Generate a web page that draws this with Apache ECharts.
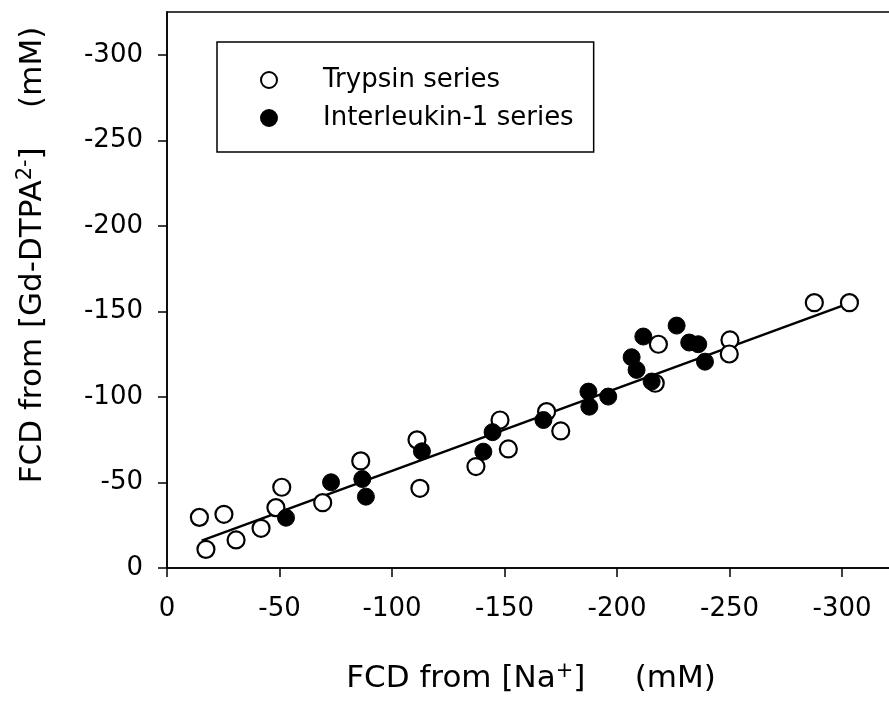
<!DOCTYPE html>
<html>
<head>
<meta charset="utf-8">
<script src="https://cdn.jsdelivr.net/npm/echarts@6/dist/echarts.min.js"></script>
<style>html,body{margin:0;padding:0;background:#fff}#c{width:889px;height:709px}</style>
</head>
<body>
<div id="c"></div>
<script>
// Tick labels
var xTicks = [0, -50, -100, -150, -200, -250, -300];
var yTicks = [0, -50, -100, -150, -200, -250, -300];

// Trypsin series (open circles): [FCD from Na+, FCD from Gd-DTPA2-]
var trypsinX = [-14.4, -17.3, -25.3, -30.7, -41.8, -48.4, -51.0, -69.2, -86.1, -111.1, -112.4, -137.3, -148.0, -151.7, -168.7, -175.0, -217.0, -218.4, -250.2, -249.9, -287.7, -303.3];
var trypsinY = [-29.6, -10.9, -31.4, -16.4, -23.2, -35.3, -47.2, -38.2, -62.6, -74.9, -46.6, -59.3, -86.5, -69.6, -91.4, -80.1, -108.0, -130.8, -133.3, -125.1, -155.1, -155.1];

// Interleukin-1 series (filled circles)
var il1X = [-52.9, -72.9, -86.8, -88.4, -113.3, -140.6, -144.7, -167.3, -187.3, -187.7, -196.1, -206.5, -208.7, -211.7, -215.4, -226.5, -232.1, -236.1, -239.1];
var il1Y = [-29.4, -50.1, -52.0, -41.7, -68.2, -68.0, -79.4, -86.5, -103.1, -94.3, -100.2, -123.2, -115.8, -135.3, -109.0, -141.7, -131.8, -130.8, -120.6];

// Regression line endpoints
var fitX = [-15.4, -307.3];
var fitY = [-16.0, -156.7];

function pairs(xs, ys) { return xs.map(function (v, i) { return [v, ys[i]]; }); }

var FONT = 'DejaVu Sans';
var chart = echarts.init(document.getElementById('c'), null, { renderer: 'canvas' });
chart.setOption({
  animation: false,
  backgroundColor: '#fff',
  grid: { left: 167, top: 12, width: 731.25, height: 556, outerBoundsMode: 'none', containLabel: false, show: true, borderColor: '#000', borderWidth: 1.5, backgroundColor: 'transparent' },
  xAxis: {
    type: 'value', min: -325, max: 0, inverse: true,
    axisLine: { show: true, onZero: false, lineStyle: { color: '#000', width: 1.5 } },
    axisTick: { show: true, inside: false, length: 9, customValues: xTicks, lineStyle: { color: '#000', width: 1.5 } },
    axisLabel: { customValues: xTicks, margin: 28, color: '#000', fontSize: 26, fontFamily: FONT },
    splitLine: { show: false }
  },
  yAxis: {
    type: 'value', min: -325, max: 0, inverse: true,
    axisLine: { show: true, onZero: false, lineStyle: { color: '#000', width: 1.5 } },
    axisTick: { show: true, inside: false, length: 9, customValues: yTicks, lineStyle: { color: '#000', width: 1.5 } },
    axisLabel: { customValues: yTicks, margin: 24, color: '#000', fontSize: 26, fontFamily: FONT },
    splitLine: { show: false }
  },
  legend: {
    orient: 'vertical', left: 217, top: 42,
    padding: [25, 20, 21, 43], itemGap: 12,
    itemWidth: 16, itemHeight: 16,
    borderColor: '#000', borderWidth: 1.5, backgroundColor: '#fff',
    textStyle: { color: '#000', fontSize: 26, fontFamily: FONT, lineHeight: 26, padding: [0, 0, 0, 41] },
    data: ['Trypsin series', 'Interleukin-1 series']
  },
  graphic: [
    {
      type: 'text', x: 531, y: 679,
      style: {
        text: '{a|FCD from [Na}{s|+}{a|]     (mM)}',
        align: 'center', verticalAlign: 'middle',
        rich: {
          a: { fontSize: 31, fontFamily: FONT, fill: '#000', color: '#000' },
          s: { fontSize: 21, fontFamily: FONT, fill: '#000', color: '#000', padding: [0, 0, 15, 0] }
        }
      }
    },
    {
      type: 'text', x: 33, y: 255, rotation: Math.PI / 2,
      style: {
        text: '{a|FCD from [Gd-DTPA}{s|2-}{a|]    (mM)}',
        align: 'center', verticalAlign: 'middle',
        rich: {
          a: { fontSize: 31, fontFamily: FONT, fill: '#000', color: '#000' },
          s: { fontSize: 21, fontFamily: FONT, fill: '#000', color: '#000', padding: [0, 0, 15, 0] }
        }
      }
    }
  ],
  series: [
    {
      name: 'fit', type: 'line', data: pairs(fitX, fitY), showSymbol: false, symbol: 'none',
      lineStyle: { color: '#000', width: 2.5 }, z: 1, silent: true
    },
    {
      name: 'Trypsin series', type: 'scatter', data: pairs(trypsinX, trypsinY),
      symbol: 'circle', symbolSize: 17,
      itemStyle: { color: '#fff', borderColor: '#000', borderWidth: 2.2, opacity: 1 }, z: 2
    },
    {
      name: 'Interleukin-1 series', type: 'scatter', data: pairs(il1X, il1Y),
      symbol: 'circle', symbolSize: 17,
      itemStyle: { color: '#000', borderColor: '#000', borderWidth: 1, opacity: 1 }, z: 3
    }
  ]
});
</script>
</body>
</html>
